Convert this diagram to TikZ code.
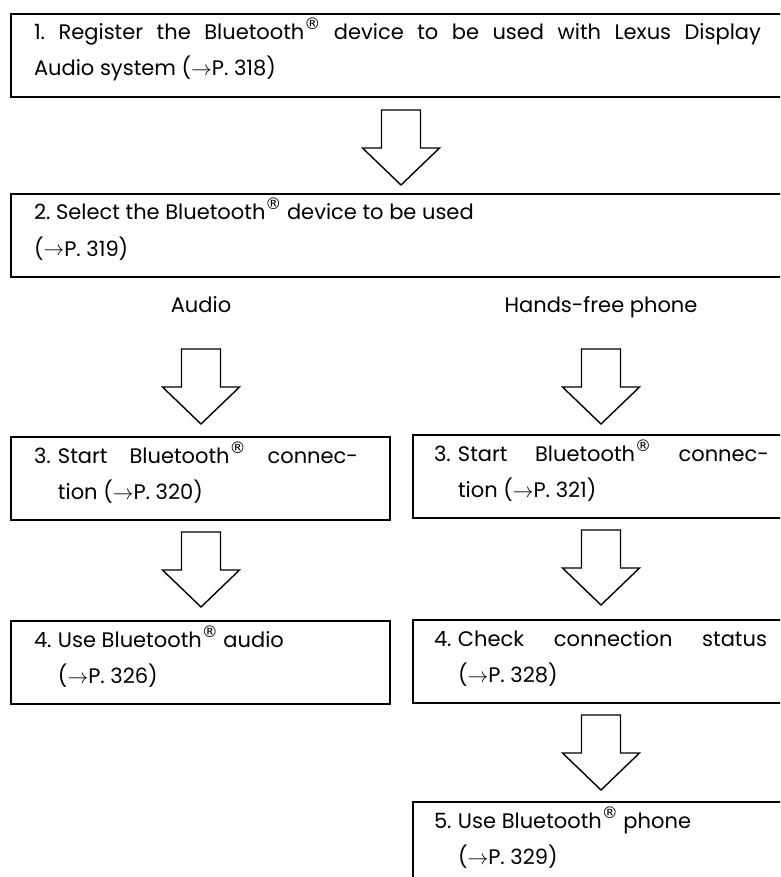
\documentclass[tikz,border=0pt]{standalone}
\usepackage{fontspec}
\setmainfont{Poppins}
\newfontfamily\regfont{DejaVu Sans}
\usetikzlibrary{calc}
\frenchspacing

\newcommand{\btooth}{Bluetooth\raisebox{10pt}{\regfont\fontsize{16}{16}\selectfont ®}}
\newcommand{\seepage}[1]{($\rightarrow$P.~#1)}
\newcommand{\stepno}[1]{\makebox[24pt][l]{#1}}

\tikzset{
    stepbox/.style={draw, line width=2pt, anchor=north west,
        inner ysep=0pt, text height=26pt, text depth=57pt,
        font=\fontsize{21}{36}\selectfont},
    widebox/.style={stepbox, inner xsep=23pt},
    leftbox/.style={stepbox, inner xsep=23pt},
    rightbox/.style={stepbox, inner xsep=21pt},
    branch/.style={anchor=base, font=\fontsize{21}{24}\selectfont},
    arrowline/.style={line width=1.4pt, line join=miter},
    pics/flowarrow/.style={code={
        \draw[arrowline] (-19.5,0) -- (19.5,0) -- (19.5,38) -- (38.5,38)
            -- (0,75) -- (-38.5,38) -- (-19.5,38) -- cycle;
    }}
}

\begin{document}
\begin{tikzpicture}[x=1pt, y=-1pt]
    \path[use as bounding box, clip] (0,0) rectangle (780,877);

    % Общие шаги.
    \node[widebox] (box1) at (10,13)
        {\parbox[t]{760pt}{\makebox[727pt][s]{1. Register the \btooth{} device to be used with Lexus Display}\\
         Audio system \seepage{318}}};
    \node[widebox] (box2) at (10,193)
        {\parbox[t]{760pt}{2. Select the \btooth{} device to be used\\
         \seepage{319}}};

    % Ветви.
    \node[branch] (audio) at (201,312) {Audio};
    \node[branch] (phone) at (601,312) {Hands-free phone};

    % Аудио.
    \node[leftbox] (box3l) at (10,436)
        {\parbox[t]{333pt}{\makebox[324pt][s]{\stepno{3.}Start \btooth{} connec-}\\
         \hspace*{24pt}tion \seepage{320}}};
    \node[leftbox] (box4l) at (10,620)
        {\parbox[t]{333pt}{\stepno{4.}Use \btooth{} audio\\
         \hspace*{24pt}\seepage{326}}};

    % Телефон.
    \node[rightbox] (box3r) at (412,434)
        {\parbox[t]{360pt}{\makebox[335pt][s]{\stepno{3.}Start \btooth{} connec-}\\
         \hspace*{24pt}tion \seepage{321}}};
    \node[rightbox] (box4r) at (412,619)
        {\parbox[t]{360pt}{\makebox[333pt][s]{\stepno{4.}Check connection status}\\
         \hspace*{24pt}\seepage{328}}};
    \node[rightbox] (box5) at (412,801)
        {\parbox[t]{360pt}{\stepno{5.}Use \btooth{} phone\\
         \hspace*{24pt}\seepage{329}}};

    % Стрелки.
    \pic at ($(box1.south west)+(391,12)$) {flowarrow};
    \pic at ($(audio |- box2.south)+(0,71)$) {flowarrow};
    \pic at ($(phone |- box2.south)+(0,71)$) {flowarrow};
    \pic at ($(audio |- box3l.south)+(0,11)$) {flowarrow};
    \pic at ($(phone |- box3r.south)+(0,11)$) {flowarrow};
    \pic at ($(phone |- box4r.south)+(0,11)$) {flowarrow};
\end{tikzpicture}
\end{document}
